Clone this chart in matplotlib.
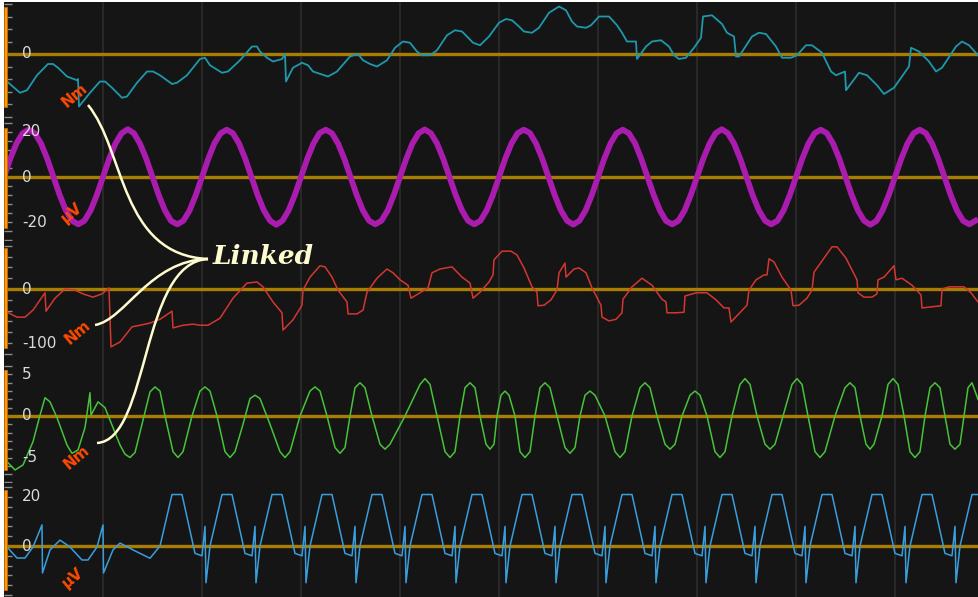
import numpy as np
import matplotlib.pyplot as plt
from matplotlib.patches import Rectangle, PathPatch
from matplotlib.path import Path
from matplotlib.transforms import Affine2D, blended_transform_factory
from matplotlib.ticker import MultipleLocator

W, H = 979, 597

# (sample, value) pairs
teal = [(7,-22),(20,-31),(27,-29),(37,-17),(48,-8),(53,-8),(58,-11),(67,-18),(77,-21),(78,-20),(79,-42),
        (90,-31),(100,-22),(105,-22),(112,-27),(122,-35),(127,-34),(137,-23),(147,-14),(153,-14),(160,-17),
        (172,-24),(177,-23),(187,-17),(200,-4),(205,-3),(210,-9),(222,-15),(228,-14),(240,-5),(252,6),
        (257,6),(260,2),(267,-3),(273,-6),(282,-4),(285,0),(286,-22),(293,-11),(302,-7),(308,-9),(313,-14),
        (328,-18),(337,-14),(350,-2),(358,0),(363,-5),(370,-8),(377,-10),(387,-5),(395,5),(403,10),(410,9),
        (417,2),(422,-1),(430,-1),(437,3),(447,15),(455,19),(462,18),(467,14),(473,9),(480,7),(489,14),
        (499,25),(506,28),(512,27),(519,22),(524,18),(532,17),(539,21),(549,33),(559,38),(566,35),(572,26),
        (577,22),(586,21),(591,23),(599,30),(609,30),(617,23),(622,17),(627,10),(636,10),(637,-4),(646,6),
        (652,10),(661,11),(669,6),(674,-1),(679,-4),(686,-3),(694,5),(701,13),(703,30),(712,31),(722,24),
        (727,17),(734,14),(736,-2),(739,-2),(752,14),(759,17),(766,16),(776,6),(782,-3),(791,-3),(797,-1),
        (806,7),(812,7),(822,1),(831,-14),(836,-17),(845,-14),(846,-29),(859,-15),(867,-17),(877,-25),
        (884,-32),(894,-27),(909,-10),(911,5),(919,2),(929,-6),(936,-14),(942,-11),(956,6),(962,10),(969,7),
        (978,-1)]

# magenta sine, one sample every 1/16 of a period
magenta_v = [0,8.0,14.8,19.4,21,19.4,14.8,8.0,0,-8.0,-14.8,-19.4,-21,-19.4,-14.8,-8.0,
             0,8.1,14.8,19.4,21.2,19.4,14.7,8.0,0,-8.0,-14.8,-19.5,-21,-19.4,-14.8,-8.0,
             0,8.0,14.9,19.4,21,19.4,14.8,8.0,0,-8.1,-14.8,-19.4,-21.2,-19.4,-14.8,-8.0,
             0,8.0,14.8,19.5,21,19.4,14.8,8.1,0,-8.0,-14.8,-19.4,-21,-19.4,-14.9,-8.0,
             0,8.0,14.8,19.4,21.1,19.4,14.8,8.0,0,-8.0,-14.7,-19.4,-21,-19.4,-14.8,-8.1,
             0,8.1,14.8,19.4,21,19.5,14.8,8.0,0,-8.0,-14.8,-19.4,-21.1,-19.4,-14.8,-8.0,
             0,8.0,14.8,19.4,21,19.4,14.9,8.0,0,-8.0,-14.8,-19.5,-21,-19.4,-14.8,-8.0,
             0,8.0,14.7,19.4,21.2,19.4,14.8,8.0,0,-8.1,-14.8,-19.4,-21,-19.4,-14.8,-8.0,
             0,8.0,14.8,19.4,21,19.4,14.8,8.1,0,-8.0,-14.8,-19.4,-21.2,-19.5,-14.8,-8.0,
             0,8.0,14.8,19.4,21,19.4,14.8,8.0,0,-8.0,-14.8,-19.4,-21,-19.4]

red = [(5,-41),(17,-52),(25,-52),(33,-39),(45,-7),(46,-41),(55,-17),(65,0),(75,-2),(83,-9),(93,-15),
       (102,-9),(109,2),(111,-107),(120,-98),(132,-70),(140,-67),(150,-63),(160,-56),(172,-41),(173,-72),
       (183,-67),(193,-65),(200,-67),(208,-67),(220,-54),(233,-17),(247,11),(257,13),(263,4),(273,-24),
       (282,-44),(283,-76),(293,-57),(302,-30),(303,-2),(310,22),(320,43),(325,41),(332,22),(338,-2),
       (347,-24),(348,-46),(357,-46),(363,-39),(367,-6),(377,20),(387,37),(393,30),(400,17),(408,7),
       (411,-17),(420,-7),(428,2),(432,30),(440,37),(452,41),(462,22),(470,11),(473,-17),(480,-6),(489,13),
       (493,26),(494,54),(502,70),(511,70),(517,63),(524,39),(532,4),(537,-6),(538,-31),(544,-30),
       (551,-20),(557,-2),(559,30),(565,48),(566,22),(574,37),(579,39),(586,30),(592,2),(601,-30),
       (602,-52),(609,-59),(616,-56),(622,-44),(623,-19),(632,4),(642,20),(652,7),(662,-19),(666,-24),
       (667,-44),(676,-44),(684,-43),(685,-13),(696,-7),(707,-7),(716,-20),(724,-35),(729,-35),(731,-61),
       (747,-30),(749,-2),(756,17),(764,26),(767,26),(769,56),(774,50),(782,22),(791,-2),(793,-31),
       (799,-30),(807,-17),(812,-2),(814,31),(822,52),(832,78),(837,78),(846,57),(857,17),(858,-7),
       (864,-15),(872,-15),(877,-9),(878,17),(884,22),(894,43),(896,17),(902,20),(912,7),(921,-11),
       (922,-35),(932,-33),(941,-31),(942,0),(949,4),(964,4),(971,-7),(978,-24)]

green = [(7,-5.5),(15,-6.5),(23,-5.9),(33,-3.1),(40,0.1),(45,2.2),(50,1.7),(57,-0.2),(67,-3.5),(72,-4.5),
         (78,-4.1),(85,-1.4),(90,2.8),(91,0.1),(98,1.7),(105,1.0),(113,-1.4),(120,-3.5),(125,-4.6),(130,-5),
         (135,-4.4),(142,-1),(150,2.9),(155,3.5),(160,3),(165,0),(173,-4.3),(178,-5),(183,-4.3),(192,0),
         (200,3),(205,3.5),(210,3),(217,0),(225,-4.3),(230,-5),(235,-4.3),(243,-1),(250,2.1),(255,2.5),
         (260,2.1),(270,-1),(280,-4.3),(285,-5),(290,-4.3),(300,0),(310,3),(315,3.5),(320,3),(327,0),
         (335,-3.8),(340,-4.5),(345,-3.8),(350,0),(355,3.4),(360,4),(365,3.4),(372,0),(380,-3.4),(385,-4),
         (390,-3.4),(405,0),(420,3.8),(425,4.5),(430,3.8),(437,0),(445,-4.3),(450,-5),(455,-4.3),(460,0),
         (465,3.4),(470,4),(475,3.4),(480,0),(486,-3.4),(490,-4),(494,-3.4),(497,0),(501,2.5),(505,3),
         (509,2.5),(515,0),(520,-4.3),(525,-5),(530,-4.3),(535,0),(540,3.4),(545,4),(550,3.4),(557,0),
         (565,-3.8),(570,-4.5),(575,-3.8),(580,0),(585,2.5),(590,3),(595,2.5),(605,0),(615,-4.3),(620,-5),
         (625,-4.3),(632,0),(640,3.4),(645,4),(650,3.4),(657,0),(665,-3.4),(670,-4),(675,-3.4),(682,0),
         (690,2.5),(695,3),(700,2.5),(707,0),(715,-4.3),(720,-5),(725,-4.3),(732,0),(740,3.8),(745,4.5),
         (750,3.8),(757,0),(765,-3.4),(770,-4),(775,-3.4),(783,0),(792,3.8),(797,4.5),(802,3.8),(808,0),
         (815,-4.3),(820,-5),(825,-4.3),(835,0),(845,3.4),(850,4),(855,3.4),(860,0),(866,-3.4),(870,-4),
         (874,-3.4),(882,0),(888,3.8),(893,4.5),(898,3.8),(904,0),(910,-4.3),(915,-5),(920,-4.3),(925,0),
         (930,3.4),(935,4),(940,3.4),(945,0),(950,-3.4),(955,-4),(960,-3.4),(964,0),(968,3.4),(972,4),
         (978,2)]

blue = [(7,-0.4),(17,-4.9),(25,-4.9),(33,-0.4),(42,8.6),(42.5,-11),(50,-1.6),(60,2.4),(70,-0.4),(82,-5.7),
        (88,-5.7),(97,-0.4),(103,8.6),(103.5,-11),(113,-1.6),(120,1.2),(135,-2),(150,-5),
        (160,0),(172,21),(182,21),(195,-3),(202,-4),(205,8),(206,-15),
        (210,0),(222,21),(232,21),(245,-3),(252,-4),(255,8),(256,-15),
        (260,0),(272,21),(282,21),(295,-3),(302,-4),(305,8),(306,-15),
        (310,0),(322,21),(332,21),(345,-3),(352,-4),(355,8),(356,-15),
        (360,0),(372,21),(382,21),(395,-3),(402,-4),(405,8),(406,-15),
        (410,0),(422,21),(432,21),(445,-3),(452,-4),(455,8),(456,-15),
        (460,0),(472,21),(482,21),(495,-3),(502,-4),(505,8),(506,-15),
        (510,0),(522,21),(532,21),(545,-3),(552,-4),(555,8),(556,-15),
        (560,0),(572,21),(582,21),(595,-3),(602,-4),(605,8),(606,-15),
        (610,0),(622,21),(632,21),(645,-3),(652,-4),(655,8),(656,-15),
        (660,0),(672,21),(682,21),(695,-3),(702,-4),(705,8),(706,-15),
        (710,0),(722,21),(732,21),(745,-3),(752,-4),(755,8),(756,-15),
        (760,0),(772,21),(782,21),(795,-3),(802,-4),(805,8),(806,-15),
        (810,0),(822,21),(832,21),(845,-3),(852,-4),(855,8),(856,-15),
        (860,0),(872,21),(882,21),(895,-3),(902,-4),(905,8),(906,-15),
        (910,0),(922,21),(932,21),(945,-3),(952,-4),(955,8),(956,-15),
        (960,0),(972,21),(978,21)]

magenta_x = np.linspace(4, 4 + 99 / 16 * (len(magenta_v) - 1), len(magenta_v))

series = [
    (np.array(teal)[:, 0], np.array(teal)[:, 1], '#1E98AA', 1.3),
    (magenta_x, np.array(magenta_v), '#AA1CAE', 4.2),
    (np.array(red)[:, 0], np.array(red)[:, 1], '#D3372F', 1.1),
    (np.array(green)[:, 0], np.array(green)[:, 1], '#48C23A', 1.1),
    (np.array(blue)[:, 0], np.array(blue)[:, 1], '#3A9EDC', 1.1),
]

tops = [2, 120, 241, 362, 483]
bots = [120, 241, 362, 483, 597]
ylims = [(-52.8, 41.6), (-28.4, 25.3), (-135, 88.8), (-8.07, 6.5), (-20.8, 25.7)]
steps = [10, 4, 20, 1, 4]
labels = [[0], [20, 0, -20], [0, -100], [5, 0, -5], [20, 0]]
units = ['Nm', 'μV', 'Nm', 'Nm', 'μV']
unit_pos = [(75, 95), (72, 213), (78, 332), (77, 457), (73, 578)]
bar_tops = [7, 128, 248, 370, 490]
grid_x = np.arange(103, 979, 99)

fig = plt.figure(figsize=(W / 100, H / 100), dpi=100, facecolor='white')
px = Affine2D().scale(1 / W, -1 / H).translate(0, 1) + fig.transFigure

for i, (x, v, c, lw) in enumerate(series):
    t, b = tops[i], bots[i]
    ax = fig.add_axes([4 / W, 1 - b / H, 975 / W, (b - t) / H])
    ax.set_facecolor('#151515')
    ax.set_xlim(4, 979)
    ax.set_ylim(*ylims[i])
    for g in grid_x:
        ax.axvline(g, color='#2e2e2e', lw=1.1, zorder=1)
    ax.axhline(0, color='#A97D04', lw=2.4, zorder=2)
    ax.plot(x, v, color=c, lw=lw, zorder=3, solid_joinstyle='round')
    for s in ax.spines.values():
        s.set_visible(False)
    ax.set_xticks([])
    ax.yaxis.set_major_locator(MultipleLocator(steps[i]))
    ax.tick_params(axis='y', direction='in', length=6, width=1, color='#8c8c8c', labelleft=False)
    tr = blended_transform_factory(ax.transAxes, ax.transData)
    for lab in labels[i]:
        ax.text(18 / 975, lab, str(lab), transform=tr, ha='left', va='center',
                color='#DADADA', fontsize=11, zorder=4)
    fig.add_artist(Rectangle((4, bar_tops[i]), 3.5, 100, transform=px, facecolor='#FF9A0A',
                             edgecolor='#C06A00', lw=0.6, zorder=5))
    fig.text(unit_pos[i][0], unit_pos[i][1], units[i], transform=px, rotation=40,
             ha='center', va='center', color='#FF4A00', fontsize=11, fontweight='bold', zorder=6)

# "Linked" callout
curves = [
    [(208, 259), (120, 255), (125, 150), (88, 105)],
    [(208, 259), (150, 260), (125, 320), (95, 325)],
    [(208, 259), (140, 262), (150, 440), (97, 443)],
]
for pts in curves:
    path = Path(pts, [Path.MOVETO, Path.CURVE4, Path.CURVE4, Path.CURVE4])
    fig.add_artist(PathPatch(path, transform=px, facecolor='none', edgecolor='#FFFBD0',
                             lw=1.8, zorder=6))
fig.text(213, 257, 'Linked', transform=px, ha='left', va='center', color='#FFFBD0',
         fontsize=19, fontstyle='italic', fontweight='bold', family='DejaVu Serif', zorder=6)

fig.savefig('out.png', dpi=100, facecolor=fig.get_facecolor())
